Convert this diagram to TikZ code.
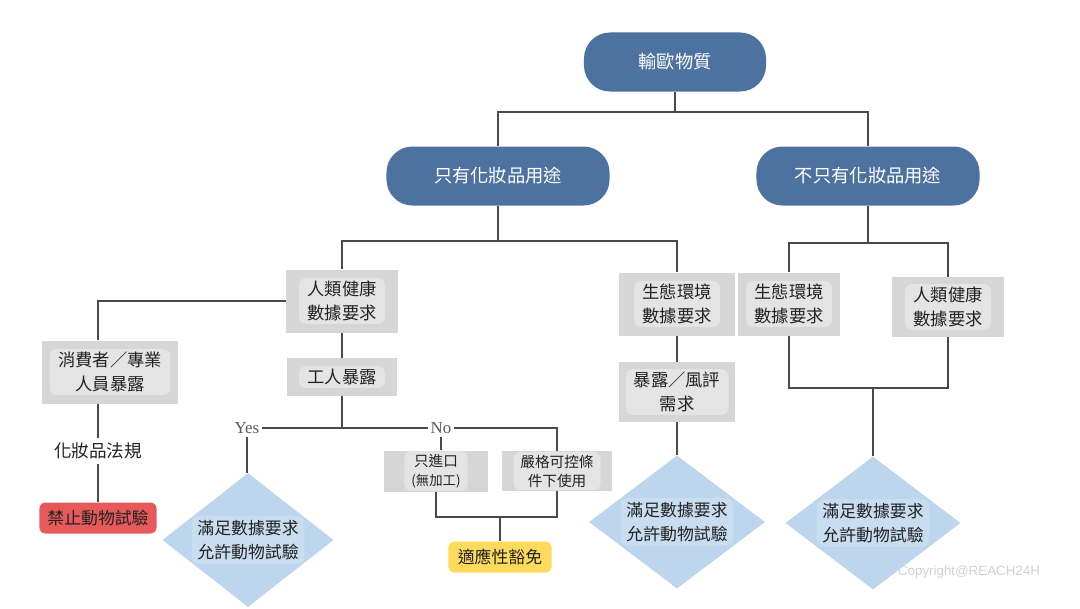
\documentclass[tikz,border=0pt]{standalone}
\usepackage{fontspec}
\setmainfont{Noto Sans CJK TC}
\newfontfamily\latinserif{Liberation Serif}
\newfontfamily\latinsans{Liberation Sans}
\usepackage{xcolor}
\usetikzlibrary{positioning, shapes.geometric}
\definecolor{pillblue}{HTML}{4E72A0}
\definecolor{boxgray}{HTML}{D6D6D6}
\definecolor{hlgray}{HTML}{E4E4E4}
\definecolor{diablue}{HTML}{BDD6EE}
\definecolor{diahl}{HTML}{C9DDF0}
\definecolor{banred}{HTML}{E65A5C}
\definecolor{exyellow}{HTML}{FEDB5C}
\definecolor{linegray}{HTML}{4A4A4A}
\definecolor{inkgray}{HTML}{222222}

\begin{document}
\begin{tikzpicture}[x=0.025cm, y=-0.025cm,
    pill/.style={rectangle, rounded corners=0.65cm, fill=pillblue, text=white, minimum width=5.575cm, minimum height=1.475cm, font={\fontsize{13}{16}\selectfont}},
    gbox/.style={rectangle, fill=boxgray, minimum height=1.575cm, inner sep=0pt},
    hl/.style={rectangle, rounded corners=5pt, fill=hlgray, text=inkgray, align=center, inner xsep=6pt, inner ysep=2pt, font={\fontsize{12.3}{17}\selectfont}},
    hlsmall/.style={hl, inner xsep=5pt, font={\fontsize{10.4}{13.5}\selectfont}},
    dia/.style={diamond, fill=diablue, inner sep=0pt},
    dtext/.style={rectangle, rounded corners=5pt, fill=diahl, text=inkgray, align=center, inner xsep=4pt, inner ysep=3pt, font={\fontsize{12}{16.8}\selectfont}},
    tag/.style={rectangle, rounded corners=0.15cm, text=inkgray, minimum height=0.775cm, font={\fontsize{12}{14}\selectfont}},
    plain/.style={text=inkgray, font={\fontsize{12.5}{15}\selectfont}},
    yn/.style={text=black!65, inner sep=2pt, font={\latinserif\fontsize{12}{14}\selectfont}},
    line/.style={draw=linegray, line width=0.8pt}
]
\useasboundingbox[fill=white] (0,0) rectangle (1080,608);

% top level
\node[pill, minimum width=4.55cm] (root) at (675,62) {輸歐物質};
\node[pill] (cosonly) at (498,176) {只有化妝品用途};
\node[pill] (notonly) at (868,176) {不只有化妝品用途};
\coordinate (split0) at (675,112);
\draw[line] (root) -- (split0);
\draw[line] (cosonly) |- (split0) -| (notonly);

% cosmetics only
\node[gbox, minimum width=2.8cm] (hum1) at (342,301) {};
\node[hl] (hum1t) at (hum1) {人類健康\\數據要求};
\node[gbox, minimum width=2.875cm] (eco1) at (677,304) {};
\node[hl] (eco1t) at (eco1) {生態環境\\數據要求};
\coordinate (split1) at (498,241);
\draw[line] (cosonly) -- (split1);
\draw[line] (hum1) |- (split1) -| (eco1);

\node[gbox, minimum width=3.375cm] (cons) at (110,372) {};
\node[hl] (const) at (cons) {消費者／專業\\人員暴露};
\node[plain] (law) at (98,451) {化妝品法規};
\node[tag, fill=banred, minimum width=2.925cm] (ban) at (98,518) {禁止動物試驗};
\draw[line] (hum1.west) -| (law |- cons.north);
\draw[line] (law |- cons.south) -- (law);
\draw[line] (law) -- (ban);

\node[gbox, minimum width=2.725cm, minimum height=0.95cm] (worker) at (342,377) {};
\node[hl] (workert) at (worker) {工人暴露};
\draw[line] (hum1) -- (worker);
\node[yn] (yes) at (247,428) {Yes};
\node[yn] (no) at (441,428) {No};
\draw[line] (worker) -- (worker |- yes);
\draw[line] (yes) -- (no);

\node[dia, minimum width=4.275cm, minimum height=3.35cm] (dia1) at (248,540) {};
\node[dtext] (dia1t) at (dia1) {滿足數據要求\\允許動物試驗};
\draw[line] (yes) -- (yes |- dia1.north);

\node[gbox, minimum width=2.6cm, minimum height=1.025cm] (imp) at (436,471) {};
\node[hlsmall] (impt) at (imp) {只進口\\{\fontsize{9.5}{12}\selectfont(無加工)}};
\node[gbox, minimum width=2.75cm, minimum height=1.0cm] (strict) at (557,471) {};
\node[hlsmall] (strictt) at (strict) {嚴格可控條\\件下使用};
\draw[line] (no) -- (no |- imp.north);
\draw[line] (no) -| (strict);
\node[tag, fill=exyellow, minimum width=2.575cm] (yel) at (500,557) {適應性豁免};
\coordinate (merge) at (500,517);
\draw[line] (imp) |- (merge) -| (strict);
\draw[line] (merge) -- (yel);

\node[gbox, minimum width=2.875cm, minimum height=1.5cm] (risk) at (677,392) {};
\node[hl] (riskt) at (risk) {暴露／風評\\需求};
\node[dia, minimum width=4.4cm, minimum height=3.325cm] (dia2) at (677,522) {};
\node[dtext] (dia2t) at (dia2) {滿足數據要求\\允許動物試驗};
\draw[line] (eco1) -- (risk);
\draw[line] (risk) -- (dia2);

% not only cosmetics
\node[gbox, minimum width=2.55cm] (eco2) at (789,304) {};
\node[hl] (eco2t) at (eco2) {生態環境\\數據要求};
\node[gbox, minimum width=2.8cm, minimum height=1.5cm] (hum2) at (948,307) {};
\node[hl] (hum2t) at (hum2) {人類健康\\數據要求};
\coordinate (split2) at (868,243);
\draw[line] (notonly) -- (split2);
\draw[line] (eco2) |- (split2) -| (hum2);
\node[dia, minimum width=4.375cm, minimum height=3.325cm] (dia3) at (873,523) {};
\node[dtext] (dia3t) at (dia3) {滿足數據要求\\允許動物試驗};
\coordinate (join2) at (873,388);
\draw[line] (eco2) |- (join2) -| (hum2);
\draw[line] (join2) -- (dia3);

\node[text=black!18, font={\latinsans\fontsize{9.5}{11}\selectfont}] (copy) at (969,572) {Copyright@REACH24H};
\end{tikzpicture}
\end{document}
